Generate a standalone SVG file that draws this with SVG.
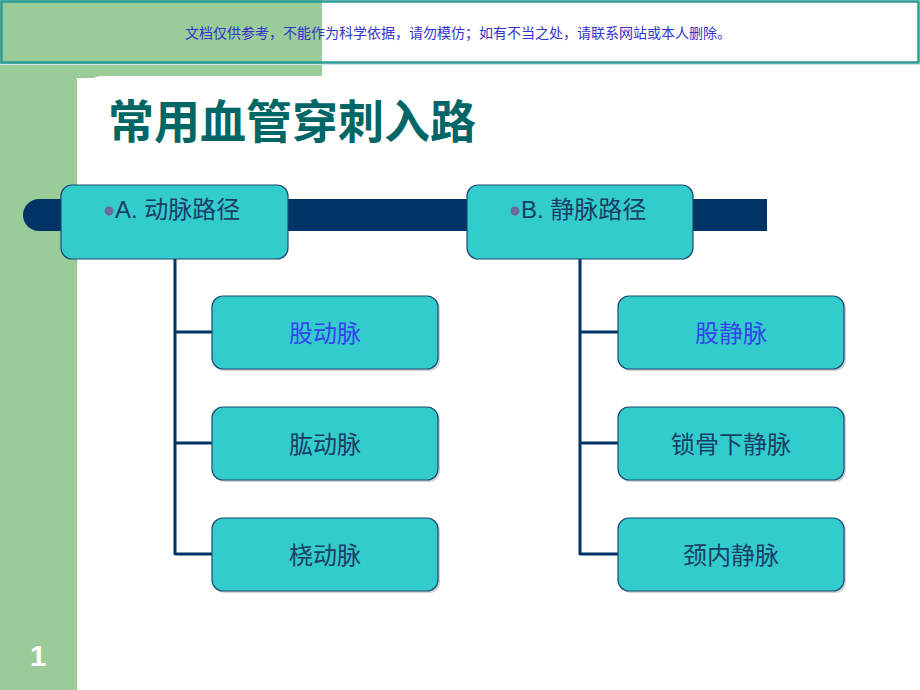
<svg xmlns="http://www.w3.org/2000/svg" width="920" height="690" viewBox="0 0 920 690">
<style>
.box{fill:#33CCCC;stroke:#1B4A72;stroke-width:1.2}
.shadow{fill:#9aa7b0;opacity:0.5}
.lbl{font-family:"Noto Sans CJK SC","Liberation Sans",sans-serif;font-size:24px;text-anchor:middle;fill:#1A3E66}
.hl{fill:#3344EE}
.head{font-family:"Liberation Sans","Noto Sans CJK SC",sans-serif;font-size:24px;fill:#1A3E66}
.conn{stroke:#003366;stroke-width:3;fill:none}
.dot{fill:#6B6B9B}
</style>
<rect x="0" y="0" width="920" height="690" fill="#FFFFFF"/>
<rect x="0" y="0" width="322" height="78" fill="#99CC99"/>
<rect x="0" y="0" width="77" height="690" fill="#99CC99"/>
<rect x="77" y="76" width="900" height="700" rx="26" fill="#FFFFFF"/>
<rect x="1.5" y="1.5" width="917" height="61" fill="none" stroke="#2E9A96" stroke-width="2.5"/>
<line x1="0" y1="64.5" x2="920" y2="64.5" stroke="#CDE6EA" stroke-width="1"/>
<text x="458" y="38" font-family="'Liberation Serif','Noto Sans CJK SC',serif" font-size="14" fill="#3333CC" text-anchor="middle">文档仅供参考，不能作为科学依据，请勿模仿；如有不当之处，请联系网站或本人删除。</text>
<text x="108" y="138" font-family="'Noto Sans CJK SC',sans-serif" font-weight="bold" font-size="46" fill="#006666">常用血管穿刺入路</text>
<text x="38" y="666" font-family="'Liberation Sans',sans-serif" font-weight="bold" font-size="29" fill="#FFFFFF" text-anchor="middle">1</text>
<path d="M39 199 H767 V231 H39 A16 16 0 0 1 39 199 Z" fill="#003366"/>
<g id="connectors">
<path class="conn" d="M175 259 V555 M175 332 H212 M175 443 H212 M175 554 H212"/>
<path class="conn" d="M580 259 V555 M580 332 H618 M580 443 H618 M580 554 H618"/>
</g>
<g id="nodeA">
<rect class="box" x="61" y="185" width="227" height="74" rx="11"/>
<circle class="dot" cx="109" cy="211" r="4.5"/>
<text class="head" x="115" y="218">A. <tspan font-family="'Noto Sans CJK SC',sans-serif">动脉路径</tspan></text>
</g>
<g id="nodeB">
<rect class="box" x="467" y="185" width="226" height="74" rx="11"/>
<circle class="dot" cx="515" cy="211" r="4.5"/>
<text class="head" x="521" y="218">B. <tspan font-family="'Noto Sans CJK SC',sans-serif">静脉路径</tspan></text>
</g>
<g id="a1">
<rect class="shadow" x="214" y="298" width="226" height="73" rx="11"/>
<rect class="box" x="212" y="296" width="226" height="73" rx="11"/>
<text class="lbl hl" x="325" y="342">股动脉</text>
</g>
<g id="a2">
<rect class="shadow" x="214" y="409" width="226" height="73" rx="11"/>
<rect class="box" x="212" y="407" width="226" height="73" rx="11"/>
<text class="lbl" x="325" y="453">肱动脉</text>
</g>
<g id="a3">
<rect class="shadow" x="214" y="520" width="226" height="73" rx="11"/>
<rect class="box" x="212" y="518" width="226" height="73" rx="11"/>
<text class="lbl" x="325" y="564">桡动脉</text>
</g>
<g id="b1">
<rect class="shadow" x="620" y="298" width="226" height="73" rx="11"/>
<rect class="box" x="618" y="296" width="226" height="73" rx="11"/>
<text class="lbl hl" x="731" y="342">股静脉</text>
</g>
<g id="b2">
<rect class="shadow" x="620" y="409" width="226" height="73" rx="11"/>
<rect class="box" x="618" y="407" width="226" height="73" rx="11"/>
<text class="lbl" x="731" y="453">锁骨下静脉</text>
</g>
<g id="b3">
<rect class="shadow" x="620" y="520" width="226" height="73" rx="11"/>
<rect class="box" x="618" y="518" width="226" height="73" rx="11"/>
<text class="lbl" x="731" y="564">颈内静脉</text>
</g>
</svg>
